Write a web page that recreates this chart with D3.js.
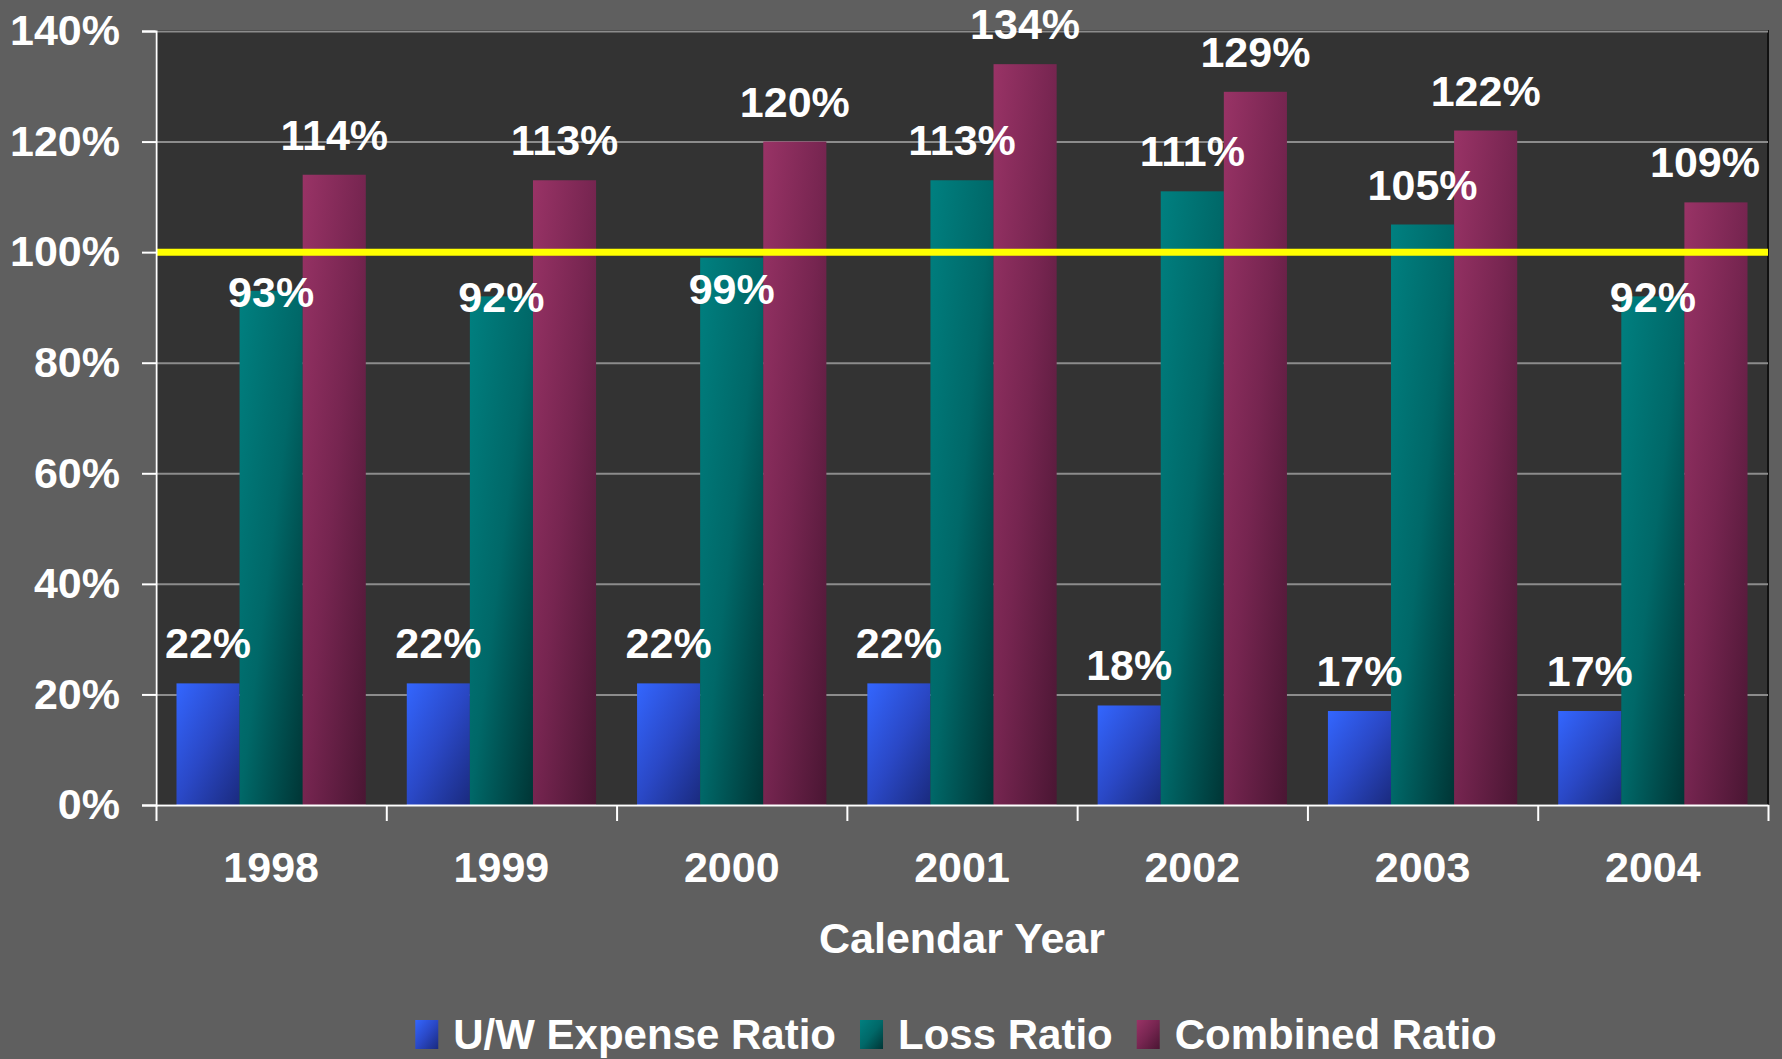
<!DOCTYPE html>
<html>
<head>
<meta charset="utf-8">
<script src="https://cdn.jsdelivr.net/npm/d3@7"></script>
<style>
  html, body { margin: 0; padding: 0; background: #5f5f5f; }
  svg { display: block; }
  text { font-family: "Liberation Sans", Arial, sans-serif; font-weight: bold; fill: #fff; }
</style>
</head>
<body>
<div id="chart"></div>
<script>
// values
const years = ['1998', '1999', '2000', '2001', '2002', '2003', '2004']
const expenseRatio = [22, 22, 22, 22, 18, 17, 17]
const lossRatio = [93, 92, 99, 113, 111, 105, 92]
const combinedRatio = [114, 113, 120, 134, 129, 122, 109]
const seriesNames = ['U/W Expense Ratio', 'Loss Ratio', 'Combined Ratio']
const yTicks = [0, 20, 40, 60, 80, 100, 120, 140]
const target = 100
const xTitle = 'Calendar Year'

const seriesValues = [expenseRatio, lossRatio, combinedRatio]
const data = years.map((year, i) => ({
  year,
  values: seriesValues.map((s, k) => ({ key: k, value: s[i] }))
}))

const width = 1782, height = 1059
const margin = { top: 31, right: 14, bottom: 254, left: 156 }
const plotW = width - margin.left - margin.right
const plotH = height - margin.top - margin.bottom

// gradient stops per series: [start, middle, end]
const gradients = [
  ['#3366ff', '#2a48c6', '#1a2a7e'],
  ['#008080', '#006868', '#003535'],
  ['#993366', '#762550', '#4a1633']
]

const svg = d3.select('#chart')
  .append('svg')
  .attr('width', width)
  .attr('height', height)
  .attr('viewBox', [0, 0, width, height])

svg.append('rect')
  .attr('width', width).attr('height', height)
  .attr('fill', '#5f5f5f')

const defs = svg.append('defs')
gradients.forEach((stops, k) => {
  const g = defs.append('linearGradient')
    .attr('id', 'grad' + k)
    .attr('x1', 0).attr('y1', 0).attr('x2', 1).attr('y2', 1)
  g.selectAll('stop')
    .data(stops)
    .join('stop')
    .attr('offset', (d, i) => i / (stops.length - 1))
    .attr('stop-color', d => d)
})

const x0 = d3.scaleBand()
  .domain(years)
  .range([0, plotW])
  .paddingInner(0.178)
  .paddingOuter(0.089)

const x1 = d3.scaleBand()
  .domain(d3.range(seriesNames.length))
  .range([0, x0.bandwidth()])

const y = d3.scaleLinear()
  .domain([0, 140])
  .range([plotH, 0])

const chart = svg.append('g')
  .attr('transform', `translate(${margin.left},${margin.top})`)

// plot background
chart.append('rect')
  .attr('width', plotW)
  .attr('height', plotH)
  .attr('fill', '#333333')
  .attr('stroke', '#111')
  .attr('stroke-width', 2)

// gridlines
chart.append('g')
  .call(d3.axisLeft(y).tickValues(yTicks.filter(d => d > 0)).tickSize(-plotW).tickFormat(''))
  .call(g => g.select('.domain').remove())
  .call(g => g.selectAll('line').attr('stroke', '#8c8c8c').attr('stroke-width', 2))

// bars
const groups = chart.append('g')
  .selectAll('g')
  .data(data)
  .join('g')
  .attr('transform', d => `translate(${x0(d.year)},0)`)

groups.selectAll('rect')
  .data(d => d.values)
  .join('rect')
  .attr('x', d => x1(d.key))
  .attr('y', d => y(d.value))
  .attr('width', x1.bandwidth())
  .attr('height', d => plotH - y(d.value))
  .attr('fill', d => `url(#grad${d.key})`)

// target line at 100%
chart.append('line')
  .attr('x1', 0).attr('x2', plotW)
  .attr('y1', y(target)).attr('y2', y(target))
  .attr('stroke', '#ffff00')
  .attr('stroke-width', 7)

// y axis
chart.append('g')
  .call(d3.axisLeft(y).tickValues(yTicks).tickSize(14).tickPadding(22).tickFormat(d => d + '%'))
  .call(g => g.select('.domain').attr('stroke', '#fff').attr('stroke-width', 2))
  .call(g => g.selectAll('line').attr('stroke', '#fff').attr('stroke-width', 2))
  .call(g => g.selectAll('text').attr('font-size', 43).attr('font-family', null).attr('fill', '#fff'))

// x axis: boundary ticks
const xBound = d3.scaleLinear().domain([0, years.length]).range([0, plotW])
chart.append('g')
  .attr('transform', `translate(0,${plotH})`)
  .call(d3.axisBottom(xBound).ticks(years.length).tickSize(16).tickSizeOuter(0).tickFormat(''))
  .call(g => g.select('.domain').attr('stroke', '#fff').attr('stroke-width', 2))
  .call(g => g.selectAll('line').attr('stroke', '#fff').attr('stroke-width', 2))

// x axis: year labels
chart.append('g')
  .attr('transform', `translate(0,${plotH})`)
  .call(d3.axisBottom(x0).tickSize(0).tickPadding(46))
  .call(g => g.select('.domain').remove())
  .call(g => g.selectAll('text').attr('font-size', 43).attr('font-family', null).attr('fill', '#fff'))

chart.append('text')
  .attr('x', plotW / 2)
  .attr('y', plotH + 148)
  .attr('text-anchor', 'middle')
  .attr('font-size', 43)
  .text(xTitle)

// value labels; labels under the target line sit just below it
const labelY = d => {
  const top = y(d.value) - 25
  if (d.value < target && top - 32 < y(target)) return Math.max(y(d.value) + 16, y(target) + 52)
  return top
}

groups.selectAll('text')
  .data(d => d.values)
  .join('text')
  .attr('x', d => x1(d.key) + x1.bandwidth() / 2)
  .attr('y', labelY)
  .attr('text-anchor', 'middle')
  .attr('font-size', 43)
  .text(d => d.value + '%')

// keep labels inside the plot on the right side
groups.each(function (d) {
  const gx = x0(d.year)
  d3.select(this).selectAll('text').each(function () {
    const t = d3.select(this)
    const w = this.getComputedTextLength()
    const cx = +t.attr('x')
    const over = gx + cx + w / 2 - (plotW - 8)
    if (over > 0) t.attr('x', cx - over)
  })
})

// legend
const legend = svg.append('g')
const items = legend.selectAll('g')
  .data(seriesNames)
  .join('g')

items.append('rect')
  .attr('y', -29)
  .attr('width', 23)
  .attr('height', 29)
  .attr('fill', (d, i) => `url(#grad${i})`)

items.append('text')
  .attr('x', 38)
  .attr('font-size', 42)
  .text(d => d)

let offset = 0
items.each(function () {
  const w = 38 + d3.select(this).select('text').node().getComputedTextLength()
  d3.select(this).attr('transform', `translate(${offset},0)`)
  offset += w + 24
})
const legendW = offset - 24
legend.attr('transform', `translate(${956 - legendW / 2},1049)`)
</script>
</body>
</html>
